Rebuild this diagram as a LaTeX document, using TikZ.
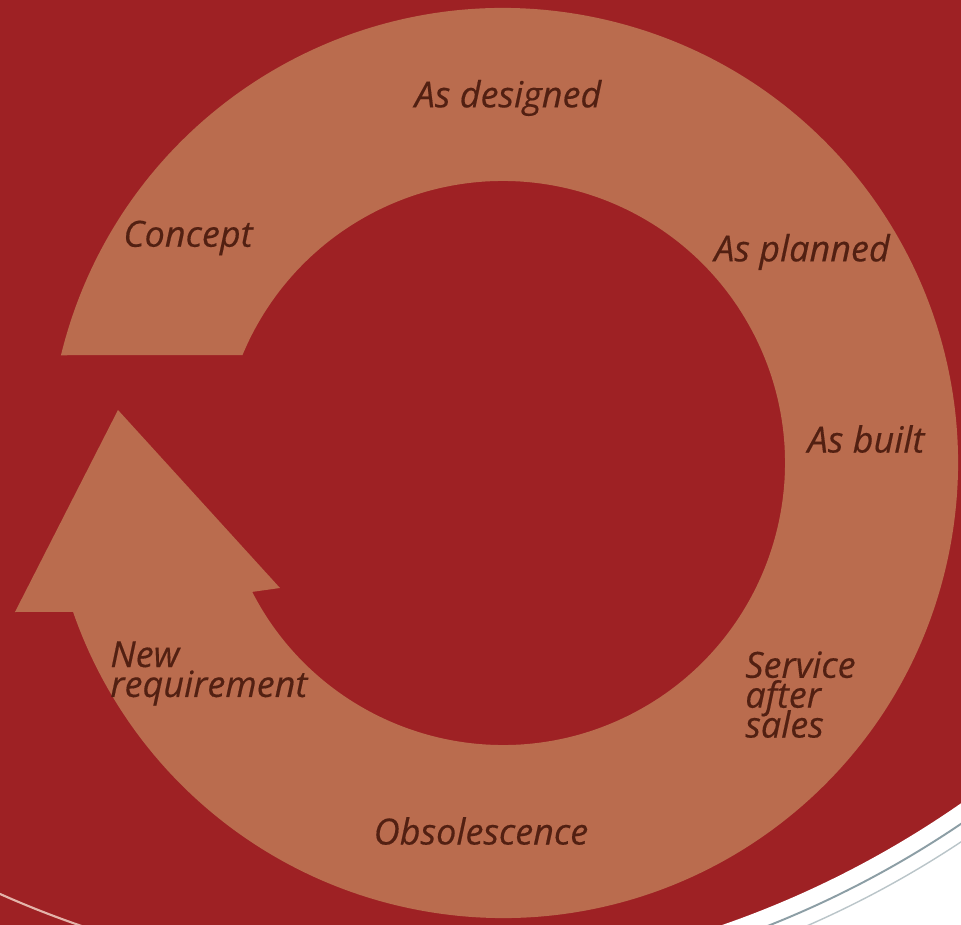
\documentclass[tikz,border=0pt]{standalone}
\usepackage{fontspec}
\setmainfont{Open Sans}
\newfontfamily\lblfam{Open Sans}[ItalicFeatures={FakeBold=0.35}]
\definecolor{bgred}{RGB}{158,33,36}
\definecolor{ringtan}{RGB}{186,108,78}
\definecolor{labelbrown}{RGB}{82,32,18}
\definecolor{curlgray}{RGB}{140,158,165}
\definecolor{curlpink}{RGB}{228,180,170}
\newcommand\lblfont{\lblfam\fontsize{20.5}{17}\selectfont\itshape\lineskiplimit=-50pt\lineskip=0pt\relax}
\tikzset{
  lbl/.style={text=labelbrown, font=\lblfont, inner sep=0pt},
  lblml/.style={lbl, align=left, anchor=north west},
}
\begin{document}
\begin{tikzpicture}
\useasboundingbox (-10.06,-9.24) rectangle (9.16,9.26);
\clip (-10.06,-9.24) rectangle (9.16,9.26);
\fill[bgred] (-11,-10) rectangle (10,10);

% ring with arrow
\fill[ringtan] (166.3:9.1) arc[start angle=166.3, end angle=-160.9, radius=9.1cm]
  -- (-9.76,-2.98) -- (-7.70,1.06) -- (-4.46,-2.50)
  -- (207.2:5.64) arc[start angle=207.2, end angle=517.5, radius=5.64cm] -- cycle;

% page curl
\coordinate (cc) at (-2.06,9.34);
\begin{scope}
  \clip (-2.06,-9.24) rectangle (9.16,0);
  \fill[white, even odd rule] (-3,-11) rectangle (11,1) (cc) circle (19.66cm);
\end{scope}
\draw[curlpink, line width=1.2pt] (cc) ++(243:19.66) arc[start angle=243, end angle=254, radius=19.66cm];
\draw[curlgray, line width=1.1pt] (cc) ++(-71:20.0) arc[start angle=-71, end angle=-53, radius=20.0cm];
\draw[curlgray!60, line width=0.8pt] (cc) ++(-72:20.3) arc[start angle=-72, end angle=-53, radius=20.3cm];

% labels
\node[lbl] (designed) at (0.10,7.30) {As designed};
\node[lbl] (concept) at (-6.30,4.50) {Concept};
\node[lbl] (planned) at (5.98,4.22) {As planned};
\node[lbl] (built) at (7.26,0.48) {As built};
\node[lblml] (service) at (4.84,-3.76) {Service\\after\\sales};
\node[lbl] (obsol) at (-0.44,-7.36) {Obsolescence};
\node[lblml] (newreq) at (-7.86,-3.56) {New\\requirement};
\end{tikzpicture}
\end{document}
